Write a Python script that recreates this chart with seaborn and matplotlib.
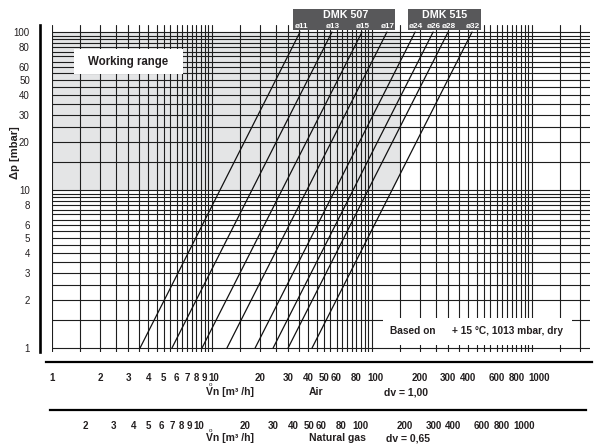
import numpy as np
import pandas as pd
import matplotlib
matplotlib.use("Agg")
import matplotlib.pyplot as plt
import matplotlib.transforms as mtransforms
from matplotlib.patches import Rectangle
from matplotlib.ticker import NullFormatter
import seaborn as sns

# ---------------- data ----------------
valve_groups = ["DMK 507", "DMK 515"]
valve_sizes = ["ø11", "ø13", "ø15", "ø17", "ø24", "ø26", "ø28", "ø32"]
flow_at_1mbar = [3.55, 5.62, 8.66, 12.4, 18.6, 24.1, 29.9, 42.2]      # air, m³/h
flow_at_100mbar = [35.5, 56.2, 86.6, 124.0, 186.0, 241.0, 299.0, 422.0]
dp_ends = [1, 100]                      # mbar
working_dp = [10, 100]                  # mbar
working_vmax = 150                      # m³/h
dv_air = 1.00
dv_gas = 0.65

y_labels = [1, 2, 3, 4, 5, 6, 8, 10, 20, 30, 40, 50, 60, 80, 100]
air_labels = [1, 2, 3, 4, 5, 6, 7, 8, 9, 10, 20, 30, 40, 50, 60, 80, 100,
              200, 300, 400, 600, 800, 1000]
gas_labels = [2, 3, 4, 5, 6, 7, 8, 9, 10, 20, 30, 40, 50, 60, 80, 100,
              200, 300, 400, 600, 800, 1000]

# grid positions (chart scale)
x_grid = np.concatenate([[1], np.arange(1.5, 10.01, 0.5), np.arange(15, 100.1, 5),
                         np.arange(150, 1000.1, 50), [1500, 2000]])
y_grid = np.concatenate([[1], np.arange(1.5, 10.01, 0.5), np.arange(15, 100.1, 5)])
gas_ticks = np.concatenate([np.arange(1.5, 10.01, 0.5), np.arange(15, 100.1, 5),
                            np.arange(150, 1000.1, 50), [1500, 2000]])

# ---------------- style ----------------
sns.set_theme(style="white")
plt.rcParams["font.family"] = ["Liberation Sans", "DejaVu Sans"]
TXT = "#231f20"
GRID = "#1e1e1e"
FILL = "#e4e5e6"
BOX = "#58585a"

W, H = 603, 448
PT = 0.72  # points per pixel at 100 dpi
def fx(x): return x / W
def fy(y): return 1 - y / H

X0, DX = 52.0, 160.0     # pixel of V=1, px per decade
Y1, DY = 348.0, 158.0    # pixel of dp=1, px per decade
def v_at(px): return 10 ** ((px - X0) / DX)

fig = plt.figure(figsize=(W / 100, H / 100), dpi=100)
fig.patch.set_facecolor("white")

# ---------------- main chart ----------------
L, R, T, B = 51.5, 590.0, 25.0, 352.0
ax = fig.add_axes([fx(L), fy(B), (R - L) / W, (B - T) / H])
ax.set_xscale("log")
ax.set_yscale("log")
ax.set_xlim(v_at(L), v_at(R))
ax.set_ylim(10 ** ((Y1 - B) / DY), 10 ** ((Y1 - T) / DY))
ax.patch.set_facecolor("white")

# working range fill
dp_fill = np.geomspace(working_dp[0], working_dp[1], 300)
v_right = np.minimum(working_vmax,
                     10 ** np.interp(np.log10(dp_fill), np.log10(dp_ends),
                                     np.log10([flow_at_1mbar[-1], flow_at_100mbar[-1]])))
ax.fill_betweenx(dp_fill, 1, v_right, color=FILL, lw=0, zorder=0.1)

# grid
ax.set_xticks(x_grid)
ax.set_xticks([], minor=True)
ax.set_yticks(y_grid, minor=True)
ax.set_yticks(y_labels, labels=[str(v) for v in y_labels])
ax.yaxis.set_minor_formatter(NullFormatter())
ax.xaxis.set_minor_formatter(NullFormatter())
ax.grid(which="both", axis="both", color=GRID, lw=0.8, zorder=0.5)
ax.tick_params(axis="x", which="both", length=0, labelbottom=False)
ax.tick_params(axis="y", which="major", direction="inout", length=13 * PT, width=0.9,
               color="black", labelsize=7, labelcolor=TXT, pad=2.3)
ax.tick_params(axis="y", which="minor", direction="inout", length=11 * PT, width=0.9,
               color="black")
for lab in ax.get_yticklabels():
    lab.set_fontweight("bold")
for s in ["top", "right", "bottom"]:
    ax.spines[s].set_visible(False)
ax.spines["left"].set_position(("outward", 12 * PT))
ax.spines["left"].set_linewidth(1.9)
ax.spines["left"].set_color("black")

# valve lines
rows = []
for s, v1, v100 in zip(valve_sizes, flow_at_1mbar, flow_at_100mbar):
    rows.append({"size": s, "flow": v1, "dp": dp_ends[0]})
    rows.append({"size": s, "flow": v100, "dp": dp_ends[1]})
df = pd.DataFrame(rows)
sns.lineplot(data=df, x="flow", y="dp", hue="size", palette=["#111111"] * len(valve_sizes),
             legend=False, estimator=None, sort=False, lw=0.9, ax=ax, zorder=2)
ax.set_xlabel("")
ax.set_ylabel("")

# white boxes
ax.add_patch(Rectangle((fx(74), fy(74)), 109 / W, 25 / H, transform=fig.transFigure,
                       facecolor="white", edgecolor="none", zorder=3))
fig.text(fx(128.5), fy(62), "Working range", ha="center", va="center",
         fontsize=8.3, fontweight="bold", color=TXT, zorder=4)

ax.add_patch(Rectangle((fx(383), fy(345)), 189 / W, 27 / H, transform=fig.transFigure,
                       facecolor="white", edgecolor="none", zorder=3))
fig.text(fx(390), fy(331.5), "Based on", ha="left", va="center",
         fontsize=7.3, fontweight="bold", color=TXT)
fig.text(fx(452), fy(331.5), "+ 15 °C, 1013 mbar, dry", ha="left", va="center",
         fontsize=7.3, fontweight="bold", color=TXT)

# header boxes
fig.add_artist(Rectangle((fx(293), fy(30)), 102 / W, 21 / H, transform=fig.transFigure,
                         facecolor=BOX, edgecolor="none", zorder=5))
fig.add_artist(Rectangle((fx(408), fy(30)), 73 / W, 21 / H, transform=fig.transFigure,
                         facecolor=BOX, edgecolor="none", zorder=5))
fig.text(fx(346), fy(18.5), valve_groups[0], ha="center", va="baseline",
         fontsize=7.7, fontweight="bold", color="white", zorder=6)
fig.text(fx(444.5), fy(18.5), valve_groups[1], ha="center", va="baseline",
         fontsize=7.7, fontweight="bold", color="white", zorder=6)
blend = mtransforms.blended_transform_factory(ax.transData, fig.transFigure)
for s, v100 in zip(valve_sizes, flow_at_100mbar):
    fig.text(v100 * 1.02, fy(27.5), s, transform=blend, ha="center", va="baseline",
             fontsize=5.9, fontweight="bold", color="white", zorder=6)

fig.text(fx(15), fy(153), "Δp [mbar]", rotation=90, ha="center", va="center",
         fontsize=8, fontweight="bold", color=TXT)

# ---------------- flow axes ----------------
label_shift_px = {"10": 2, "100": 3, "1000": 7}

def flow_axis(y_px, left_px, right_px, factor, ticks, labels):
    a = fig.add_axes([fx(left_px), fy(y_px), (right_px - left_px) / W, 1e-4])
    a.set_xscale("log")
    a.set_xlim(v_at(left_px) * factor, v_at(right_px) * factor)
    a.patch.set_visible(False)
    for s in ["top", "right", "left"]:
        a.spines[s].set_visible(False)
    a.spines["bottom"].set_linewidth(1.6)
    a.spines["bottom"].set_color("black")
    a.set_yticks([])
    a.set_xticks(ticks, minor=True)
    a.set_xticks(labels, labels=[str(v) for v in labels])
    a.xaxis.set_minor_formatter(NullFormatter())
    a.tick_params(axis="x", which="both", direction="inout", length=8 * PT, width=0.9,
                  color="black", labelsize=7, labelcolor=TXT, pad=5.2)
    for lab in a.get_xticklabels():
        lab.set_fontweight("bold")
        sh = label_shift_px.get(lab.get_text(), 0)
        if sh:
            lab.set_transform(lab.get_transform() +
                              mtransforms.ScaledTranslation(sh / 100, 0, fig.dpi_scale_trans))
    return a

flow_axis(362, 46, 592, 1.0 / np.sqrt(dv_air), x_grid, air_labels)
flow_axis(410, 50, 586, 1.0 / np.sqrt(dv_gas), gas_ticks, gas_labels)

# axis captions
for yb, name, dv, ring_y, dv_x in [(395, "Air", dv_air, 384.5, 384),
                                   (441, "Natural gas", dv_gas, 430.5, 386)]:
    fig.text(fx(206), fy(yb), "Vn [m³ /h]", ha="left", va="baseline",
             fontsize=7.5, fontweight="bold", color=TXT)
    fig.text(fx(210.5), fy(ring_y), "o", ha="center", va="center",
             fontsize=4.5, color=TXT)
    fig.text(fx(309), fy(yb), name, ha="left", va="baseline",
             fontsize=7.5, fontweight="bold", color=TXT)
    fig.text(fx(dv_x), fy(yb), "dv = " + f"{dv:.2f}".replace(".", ","),
             ha="left", va="baseline", fontsize=7.5, fontweight="bold", color=TXT)

fig.savefig("out.png", dpi=100)
